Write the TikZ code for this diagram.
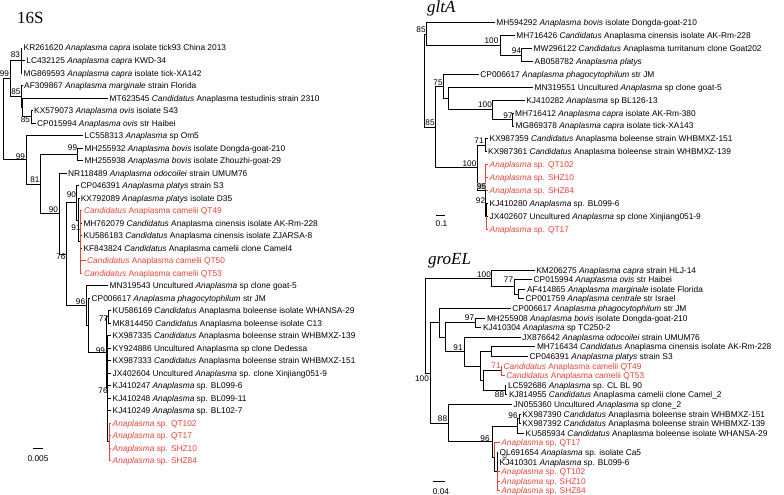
\documentclass[tikz,border=0pt]{standalone}
\usepackage{fontspec}
\setmainfont{Liberation Sans}
\newfontfamily\titlefont{Liberation Serif}
\usetikzlibrary{positioning}
\definecolor{qtred}{RGB}{233, 66, 54}
\tikzstyle{leafLabel} = [anchor=west, inner xsep=1.5pt, inner ysep=0pt, text height=6pt,
	text depth=0pt, text=black, font=\fontsize{8.35}{9}\selectfont]
\tikzstyle{redLabel} = [leafLabel, text=qtred]
\tikzstyle{bootLabel} = [inner sep=0pt, text height=6pt, text depth=0pt, text=black,
	font=\fontsize{8.2}{9}\selectfont]
\tikzstyle{scaleLabel} = [bootLabel, font=\fontsize{8.35}{9}\selectfont]
\tikzstyle{branch} = [draw=black, line width=0.8pt]
\tikzstyle{redBranch} = [branch, draw=qtred]
\tikzstyle{treeTitle} = [anchor=base west, inner sep=0pt, font=\titlefont\fontsize{17}{20}\selectfont]

\begin{document}
\begin{tikzpicture}[x=1pt, y=-1pt]
  \useasboundingbox (0,0) rectangle (784,495);

  % 16S
  \node (T16S) [treeTitle] at (17,23.5) {16S};
  \node (S01) [leafLabel] at (22,48) {KR261620 \textit{Anaplasma capra} isolate tick93 China 2013};
  \node (S02) [leafLabel] at (24.7,60.5) {LC432125 \textit{Anaplasma capra} KWD-34};
  \node (S03) [leafLabel] at (22,73) {MG869593 \textit{Anaplasma capra} isolate tick-XA142};
  \node (S04) [leafLabel] at (22.5,85.5) {AF309867 \textit{Anaplasma marginale} strain Florida};
  \node (S05) [leafLabel] at (108,98) {MT623545 \textit{Candidatus} Anaplasma testudinis strain 2310};
  \node (S06) [leafLabel] at (32.5,110.5) {KX579073 \textit{Anaplasma ovis} isolate S43};
  \node (S07) [leafLabel] at (35.5,123) {CP015994 \textit{Anaplasma ovis} str Haibei};
  \node (S08) [leafLabel] at (83,135.5) {LC558313 \textit{Anaplasma} sp Om5};
  \node (S09) [leafLabel] at (83,148) {MH255932 \textit{Anaplasma bovis} isolate Dongda-goat-210};
  \node (S10) [leafLabel] at (83,160.5) {MH255938 \textit{Anaplasma bovis} isolate Zhouzhi-goat-29};
  \node (S11) [leafLabel] at (66.5,173) {NR118489 \textit{Anaplasma odocoilei} strain UMUM76};
  \node (S12) [leafLabel] at (79,185.5) {CP046391 \textit{Anaplasma platys} strain S3};
  \node (S13) [leafLabel] at (79.2,198) {KX792089 \textit{Anaplasma platys} isolate D35};
  \node (S14) [redLabel] at (82.3,210.5) {\textit{Candidatus} Anaplasma camelii QT49};
  \node (S15) [leafLabel] at (81.8,223) {MH762079 \textit{Candidatus} Anaplasma cinensis isolate AK-Rm-228};
  \node (S16) [leafLabel] at (81.8,235.5) {KU586183 \textit{Candidatus} Anaplasma cinensis isolate ZJARSA-8};
  \node (S17) [leafLabel] at (81.8,248) {KF843824 \textit{Candidatus} Anaplasma camelii clone Camel4};
  \node (S18) [redLabel] at (85.5,260.5) {\textit{Candidatus} Anaplasma camelii QT50};
  \node (S19) [redLabel] at (82.3,273) {\textit{Candidatus} Anaplasma camelii QT53};
  \node (S20) [leafLabel] at (108,285.5) {MN319543 Uncultured \textit{Anaplasma} sp clone goat-5};
  \node (S21) [leafLabel] at (90,298) {CP006617 \textit{Anaplasma phagocytophilum} str JM};
  \node (S22) [leafLabel] at (111,310.5) {KU586169 \textit{Candidatus} Anaplasma boleense isolate WHANSA-29};
  \node (S23) [leafLabel] at (111,323) {MK814450 \textit{Candidatus} Anaplasma boleense isolate C13};
  \node (S24) [leafLabel] at (111,335.5) {KX987335 \textit{Candidatus} Anaplasma boleense strain WHBMXZ-139};
  \node (S25) [leafLabel] at (111,348) {KY924886 Uncultured Anaplasma sp clone Dedessa};
  \node (S26) [leafLabel] at (111,360.5) {KX987333 \textit{Candidatus} Anaplasma boleense strain WHBMXZ-151};
  \node (S27) [leafLabel] at (111,373) {JX402604 Uncultured \textit{Anaplasma} sp. clone Xinjiang051-9};
  \node (S28) [leafLabel] at (111,385.5) {KJ410247 \textit{Anaplasma} sp. BL099-6};
  \node (S29) [leafLabel] at (111,398) {KJ410248 \textit{Anaplasma} sp. BL099-11};
  \node (S30) [leafLabel] at (111,410.5) {KJ410249 \textit{Anaplasma} sp. BL102-7};
  \node (S31) [redLabel] at (111,423) {\textit{Anaplasma} sp. QT102};
  \node (S32) [redLabel] at (111,435.5) {\textit{Anaplasma} sp. QT17};
  \node (S33) [redLabel] at (111,448) {\textit{Anaplasma} sp. SHZ10};
  \node (S34) [redLabel] at (111,460.5) {\textit{Anaplasma} sp. SHZ84};

  \coordinate (SCAP) at (21,60.5);
  \coordinate (SOVI) at (31.7,116.75);
  \coordinate (SMTO) at (22.5,107.4);
  \coordinate (SMAR) at (21.5,96.4);
  \coordinate (STOP) at (10,78.45);
  \coordinate (SBOV) at (77.3,154.25);
  \coordinate (SCAM) at (80.7,241.75);
  \coordinate (SQ91) at (78.5,219.9);
  \coordinate (SPLA) at (76.7,202.7);
  \coordinate (SBOL) at (108,316.75);
  \coordinate (SRED) at (109.3,441.75);
  \coordinate (SB76) at (107,388.6);
  \coordinate (SB99) at (106,352.7);
  \coordinate (SPHA) at (88,325.35);
  \coordinate (SN96) at (86,305.4);
  \coordinate (SN76) at (66.7,254.05);
  \coordinate (SN90) at (59.3,213.5);
  \coordinate (SN81) at (40.7,183.9);
  \coordinate (SN99) at (26,159.7);
  \coordinate (SROOT) at (3,119.1);

  \draw [branch] (SROOT) |- (STOP);
  \draw [branch] (SROOT) |- (SN99);
  \draw [branch] (STOP) |- (SCAP);
  \draw [branch] (STOP) |- (SMAR);
  \foreach \c in {S01,S02,S03} \draw [branch] (SCAP) |- (\c.west);
  \draw [branch] (SMAR) |- (S04.west);
  \draw [branch] (SMAR) |- (SMTO);
  \draw [branch] (SMTO) |- (S05.west);
  \draw [branch] (SMTO) |- (SOVI);
  \foreach \c in {S06,S07} \draw [branch] (SOVI) |- (\c.west);
  \draw [branch] (SN99) |- (S08.west);
  \draw [branch] (SN99) |- (SN81);
  \draw [branch] (SN81) |- (SBOV);
  \draw [branch] (SN81) |- (SN90);
  \foreach \c in {S09,S10} \draw [branch] (SBOV) |- (\c.west);
  \draw [branch] (SN90) |- (S11.west);
  \draw [branch] (SN90) |- (SN76);
  \draw [branch] (SN76) |- (SPLA);
  \draw [branch] (SN76) |- (SN96);
  \draw [branch] (SPLA) |- (S12.west);
  \draw [branch] (SPLA) |- (SQ91);
  \draw [branch] (SQ91) |- (S13.west);
  \draw [branch] (SQ91) |- (SCAM);
  \foreach \c in {S15,S16,S17} \draw [branch] (SCAM) |- (\c.west);
  \foreach \c in {S14,S18,S19} \draw [redBranch] (SCAM) |- (\c.west);
  \draw [branch] (SN96) |- (S20.west);
  \draw [branch] (SN96) |- (SPHA);
  \draw [branch] (SPHA) |- (S21.west);
  \draw [branch] (SPHA) |- (SB99);
  \draw [branch] (SB99) |- (SBOL);
  \draw [branch] (SB99) |- (SB76);
  \foreach \c in {S22,S23} \draw [branch] (SBOL) |- (\c.west);
  \foreach \c in {S24,S25,S26,S27,S28,S29,S30} \draw [branch] (SB76) |- (\c.west);
  \draw [branch] (SB76) |- (SRED);
  \foreach \c in {S31,S32,S33,S34} \draw [redBranch] (SRED) |- (\c.west);

  \node (BS83) [bootLabel] at (15.5,54.5) {83};
  \node (BSTOP) [bootLabel] at (4.5,74) {99};
  \node (BSMAR) [bootLabel] at (16,91) {85};
  \node (BSOVI) [bootLabel] at (25.5,119.5) {85};
  \node (BSN99) [bootLabel] at (20.5,156) {99};
  \node (BSBOV) [bootLabel] at (72.5,147.5) {99};
  \node (BSN81) [bootLabel] at (35,179.5) {81};
  \node (BSN90) [bootLabel] at (53.5,209) {90};
  \node (BSPLA) [bootLabel] at (71.5,194.5) {90};
  \node (BSQ91) [bootLabel] at (76,227.5) {91};
  \node (BSN76) [bootLabel] at (61,256.3) {76};
  \node (BSN96) [bootLabel] at (80.5,301) {96};
  \node (BSBOL) [bootLabel] at (103.5,318) {77};
  \node (BSB99) [bootLabel] at (100.5,350) {99};
  \node (BSB76) [bootLabel] at (103,390) {76};

  \coordinate (SSCL) at (33,448.3);
  \coordinate (SSCR) at (43,448.3);
  \draw [branch] (SSCL) -- (SSCR);
  \node (SSCT) [scaleLabel] at (38,458) {0.005};

  % gltA
  \node (TGLT) [treeTitle] at (427,12.5) {\itshape gltA};
  \node (G01) [leafLabel] at (494.7,22.7) {MH594292 \textit{Anaplasma bovis} isolate Dongda-goat-210};
  \node (G02) [leafLabel] at (514.7,35.6) {MH716426 \textit{Candidatus} Anaplasma cinensis isolate AK-Rm-228};
  \node (G03) [leafLabel] at (532,48.5) {MW296122 \textit{Candidatus} Anaplasma turritanum clone Goat202};
  \node (G04) [leafLabel] at (533,61.4) {AB058782 \textit{Anaplasma platys}};
  \node (G05) [leafLabel] at (478.7,74.3) {CP006617 \textit{Anaplasma phagocytophilum} str JM};
  \node (G06) [leafLabel] at (533,87.2) {MN319551 Uncultured \textit{Anaplasma} sp clone goat-5};
  \node (G07) [leafLabel] at (524.7,100.1) {KJ410282 \textit{Anaplasma} sp BL126-13};
  \node (G08) [leafLabel] at (513.5,113) {MH716412 \textit{Anaplasma capra} isolate AK-Rm-380};
  \node (G09) [leafLabel] at (514,125.9) {MG869378 \textit{Anaplasma capra} isolate tick-XA143};
  \node (G10) [leafLabel] at (488,138.8) {KX987359 \textit{Candidatus} Anaplasma boleense strain WHBMXZ-151};
  \node (G11) [leafLabel] at (486.5,151.7) {KX987361 \textit{Candidatus} Anaplasma boleense strain WHBMXZ-139};
  \node (G12) [redLabel] at (488,164.6) {\textit{Anaplasma} sp. QT102};
  \node (G13) [redLabel] at (488,177.5) {\textit{Anaplasma} sp. SHZ10};
  \node (G14) [redLabel] at (488,190.4) {\textit{Anaplasma} sp. SHZ84};
  \node (G15) [leafLabel] at (488,203.3) {KJ410280 \textit{Anaplasma} sp. BL099-6};
  \node (G16) [leafLabel] at (488,216.2) {JX402607 Uncultured \textit{Anaplasma} sp clone Xinjiang051-9};
  \node (G17) [redLabel] at (488,229.1) {\textit{Anaplasma} sp. QT17};

  \coordinate (G94) at (521.7,54.95);
  \coordinate (GA100) at (500,45.3);
  \coordinate (GA85) at (426,34);
  \coordinate (G97) at (512.5,119.45);
  \coordinate (GC100) at (492.7,109.8);
  \coordinate (GUNC) at (448.3,98.5);
  \coordinate (G75) at (443.3,86.4);
  \coordinate (G71) at (485.5,145.25);
  \coordinate (G92) at (486.5,216.2);
  \coordinate (G95) at (485.5,190.4);
  \coordinate (GB100) at (477.3,167.8);
  \coordinate (GB85) at (435,127.1);
  \coordinate (GROOT) at (424,80.55);

  \draw [branch] (GROOT) |- (GA85);
  \draw [branch] (GROOT) |- (GB85);
  \draw [branch] (GA85) |- (G01.west);
  \draw [branch] (GA85) |- (GA100);
  \draw [branch] (GA100) |- (G02.west);
  \draw [branch] (GA100) |- (G94);
  \foreach \c in {G03,G04} \draw [branch] (G94) |- (\c.west);
  \draw [branch] (GB85) |- (G75);
  \draw [branch] (GB85) |- (GB100);
  \draw [branch] (G75) |- (G05.west);
  \draw [branch] (G75) |- (GUNC);
  \draw [branch] (GUNC) |- (G06.west);
  \draw [branch] (GUNC) |- (GC100);
  \draw [branch] (GC100) |- (G07.west);
  \draw [branch] (GC100) |- (G97);
  \foreach \c in {G08,G09} \draw [branch] (G97) |- (\c.west);
  \draw [branch] (GB100) |- (G71);
  \draw [branch] (GB100) |- (G95);
  \foreach \c in {G10,G11} \draw [branch] (G71) |- (\c.west);
  \draw [branch] (G95) |- (G92);
  \foreach \c in {G15,G16} \draw [branch] (G92) |- (\c.west);
  \foreach \c in {G12,G13,G14} \draw [redBranch] (G95) |- (\c.west);
  \draw [redBranch] (G92) |- (G17.west);

  \node (BGA85) [bootLabel] at (421,29.5) {85};
  \node (BGA100) [bootLabel] at (491.5,40.5) {100};
  \node (BG94) [bootLabel] at (516.5,50.5) {94};
  \node (BG75) [bootLabel] at (438,82.5) {75};
  \node (BGC100) [bootLabel] at (485,104.5) {100};
  \node (BG97) [bootLabel] at (508,115.5) {97};
  \node (BGB85) [bootLabel] at (430,122) {85};
  \node (BG71) [bootLabel] at (479,140.5) {71};
  \node (BGB100) [bootLabel] at (469.5,163.5) {100};
  \node (BG95) [bootLabel, fill=black!30, inner sep=0.4pt] at (481.5,186) {95};
  \node (BG92) [bootLabel] at (480.5,200) {92};

  \coordinate (GSCL) at (436,215);
  \coordinate (GSCR) at (445,215);
  \draw [branch] (GSCL) -- (GSCR);
  \node (GSCT) [scaleLabel] at (441.5,223) {0.1};

  % groEL
  \node (TGRO) [treeTitle] at (428,264.5) {\itshape groEL};
  \node (E01) [leafLabel] at (534.7,270) {KM206275 \textit{Anaplasma capra} strain HLJ-14};
  \node (E02) [leafLabel] at (532,279.6) {CP015994 \textit{Anaplasma ovis} str Haibei};
  \node (E03) [leafLabel] at (525.3,289.2) {AF414865 \textit{Anaplasma marginale} isolate Florida};
  \node (E04) [leafLabel] at (524,298.8) {CP001759 \textit{Anaplasma centrale} str Israel};
  \node (E05) [leafLabel] at (510.7,308.4) {CP006617 \textit{Anaplasma phagocytophilum} str JM};
  \node (E06) [leafLabel] at (485.3,318) {MH255908 \textit{Anaplasma bovis} isolate Dongda-goat-210};
  \node (E07) [leafLabel] at (481.3,327.6) {KJ410304 \textit{Anaplasma} sp TC250-2};
  \node (E08) [leafLabel] at (520.7,337.2) {JX876642 \textit{Anaplasma odocoilei} strain UMUM76};
  \node (E09) [leafLabel] at (535.3,346.8) {MH716434 \textit{Candidatus} Anaplasma cinensis isolate AK-Rm-228};
  \node (E10) [leafLabel] at (528,356.4) {CP046391 \textit{Anaplasma platys} strain S3};
  \node (E11) [redLabel] at (502,366) {\textit{Candidatus} Anaplasma camelii QT49};
  \node (E12) [redLabel] at (504.7,375.6) {\textit{Candidatus} Anaplasma camelii QT53};
  \node (E13) [leafLabel] at (506.3,385.2) {LC592686 \textit{Anaplasma} sp. CL BL 90};
  \node (E14) [leafLabel] at (507.3,394.8) {KJ814955 \textit{Candidatus} Anaplasma camelii clone Camel\_2};
  \node (E15) [leafLabel] at (512,404.4) {JN055360 Uncultured \textit{Anaplasma} sp clone\_2};
  \node (E16) [leafLabel] at (520.7,414) {KX987390 \textit{Candidatus} Anaplasma boleense strain WHBMXZ-151};
  \node (E17) [leafLabel] at (520.7,423.6) {KX987392 \textit{Candidatus} Anaplasma boleense strain WHBMXZ-139};
  \node (E18) [leafLabel] at (524,433.2) {KU585934 \textit{Candidatus} Anaplasma boleense isolate WHANSA-29};
  \node (E19) [redLabel] at (499.7,442.8) {\textit{Anaplasma} sp. QT17};
  \node (E20) [leafLabel] at (498,452.4) {OL691654 \textit{Anaplasma} sp. isolate Ca5};
  \node (E21) [leafLabel] at (498,462) {KJ410301 \textit{Anaplasma} sp. BL099-6};
  \node (E22) [redLabel] at (499.7,471.6) {\textit{Anaplasma} sp. QT102};
  \node (E23) [redLabel] at (499.7,481.2) {\textit{Anaplasma} sp. SHZ10};
  \node (E24) [redLabel] at (499.7,490.8) {\textit{Anaplasma} sp. SHZ84};

  \coordinate (EAF) at (518.3,294);
  \coordinate (E77) at (514,286.8);
  \coordinate (EA100) at (491.7,278.4);
  \coordinate (E97) at (475,322.8);
  \coordinate (EPC) at (491.7,351.6);
  \coordinate (E71) at (501,370.8);
  \coordinate (E88B) at (505,390);
  \coordinate (ECAM) at (483.3,380.4);
  \coordinate (EU) at (480,366);
  \coordinate (E91) at (464,351.6);
  \coordinate (EMID) at (445,337.2);
  \coordinate (EPHA) at (439.3,322.8);
  \coordinate (E96H) at (519,418.8);
  \coordinate (EBOL) at (517,426);
  \coordinate (E92) at (497,471.6);
  \coordinate (ESP) at (494.5,457.2);
  \coordinate (E96G) at (492.7,441.6);
  \coordinate (E88) at (448.3,423);
  \coordinate (ER100) at (430.7,372.9);
  \coordinate (EROOT) at (425,325.65);

  \draw [branch] (EROOT) |- (EA100);
  \draw [branch] (EROOT) |- (ER100);
  \draw [branch] (EA100) |- (E01.west);
  \draw [branch] (EA100) |- (E77);
  \draw [branch] (E77) |- (E02.west);
  \draw [branch] (E77) |- (EAF);
  \foreach \c in {E03,E04} \draw [branch] (EAF) |- (\c.west);
  \draw [branch] (ER100) |- (EPHA);
  \draw [branch] (ER100) |- (E88);
  \draw [branch] (EPHA) |- (E05.west);
  \draw [branch] (EPHA) |- (EMID);
  \draw [branch] (EMID) |- (E97);
  \draw [branch] (EMID) |- (E91);
  \foreach \c in {E06,E07} \draw [branch] (E97) |- (\c.west);
  \draw [branch] (E91) |- (E08.west);
  \draw [branch] (E91) |- (EU);
  \draw [branch] (EU) |- (EPC);
  \draw [branch] (EU) |- (ECAM);
  \foreach \c in {E09,E10} \draw [branch] (EPC) |- (\c.west);
  \draw [branch] (ECAM) |- (E71);
  \draw [branch] (ECAM) |- (E88B);
  \foreach \c in {E11,E12} \draw [redBranch] (E71) |- (\c.west);
  \foreach \c in {E13,E14} \draw [branch] (E88B) |- (\c.west);
  \draw [branch] (E88) |- (E15.west);
  \draw [branch] (E88) |- (E96G);
  \draw [branch] (E96G) |- (EBOL);
  \draw [branch] (E96G) |- (ESP);
  \draw [branch] (EBOL) |- (E96H);
  \draw [branch] (EBOL) |- (E18.west);
  \foreach \c in {E16,E17} \draw [branch] (E96H) |- (\c.west);
  \draw [branch] (ESP) |- (E92);
  \draw [redBranch] (ESP) |- (E19.west);
  \foreach \c in {E20,E21} \draw [branch] (E92) |- (\c.west);
  \foreach \c in {E22,E23,E24} \draw [redBranch] (E92) |- (\c.west);

  \node (BEA100) [bootLabel] at (484,274.5) {100};
  \node (BE77) [bootLabel] at (508.5,279.5) {77};
  \node (BE97) [bootLabel] at (469.5,317.5) {97};
  \node (BE91) [bootLabel] at (458,347.5) {91};
  \node (BE71) [bootLabel, text=qtred] at (496,365.5) {71};
  \node (BE88B) [bootLabel] at (499.5,394.5) {88};
  \node (BER100) [bootLabel] at (422,378) {100};
  \node (BE88) [bootLabel] at (442.5,418) {88};
  \node (BE96G) [bootLabel] at (485,438) {96};
  \node (BE96H) [bootLabel] at (513,415.5) {96};
  \node (BE92) [bootLabel, rotate=90, font=\fontsize{5.5}{6}\selectfont, text height=4pt] at (504.5,457) {92};

  \coordinate (ESCL) at (433,481.7);
  \coordinate (ESCR) at (445,481.7);
  \draw [branch] (ESCL) -- (ESCR);
  \node (ESCT) [scaleLabel] at (441,491) {0.04};

\end{tikzpicture}
\end{document}
